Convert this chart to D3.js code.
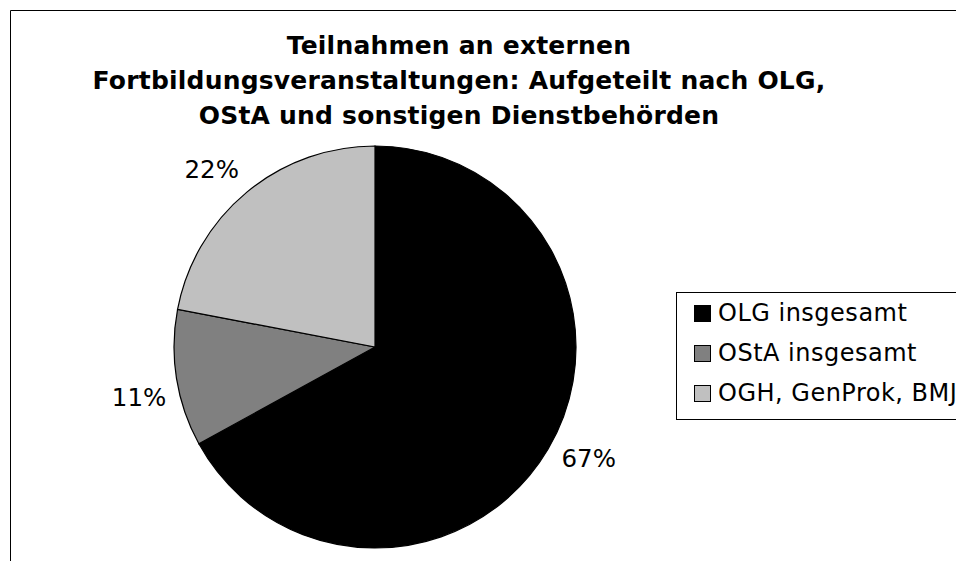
<!DOCTYPE html>
<html lang="de">
<head>
  <meta charset="utf-8">
  <title>Teilnahmen an externen Fortbildungsveranstaltungen</title>
  <script src="https://d3js.org/d3.v7.min.js"></script>
  <style>
    body { margin: 0; background: #fff; }
    svg { display: block; font-family: "DejaVu Sans", Verdana, sans-serif; }
  </style>
</head>
<body>
  <svg id="chart" width="956" height="561"></svg>

  <script>
    // Daten
    const categories = ["OLG insgesamt", "OStA insgesamt", "OGH, GenProk, BMJ"];
    const values = [67, 11, 22];
    const colors = ["#000000", "#808080", "#c0c0c0"];
    const titleLines = [
      "Teilnahmen an externen",
      "Fortbildungsveranstaltungen: Aufgeteilt nach OLG,",
      "OStA und sonstigen Dienstbehörden"
    ];

    const width = 956, height = 561;
    const cx = 375, cy = 347, radius = 201;

    const svg = d3.select("#chart");

    // Rahmen (nur oben und links sichtbar)
    svg.append("path")
        .attr("d", `M10.5,${height} V10.5 H${width}`)
        .attr("fill", "none")
        .attr("stroke", "#000")
        .attr("stroke-width", 1);

    // Titel
    svg.append("g")
        .attr("text-anchor", "middle")
        .style("font-weight", "bold")
        .style("font-size", "25px")
        .style("letter-spacing", "0.2px")
      .selectAll("text")
      .data(titleLines)
      .join("text")
        .attr("x", 459)
        .attr("y", (d, i) => 54 + i * 35)
        .text(d => d);

    const pie = d3.pie().sort(null).value(d => d);
    const arcs = pie(values);
    const arc = d3.arc().innerRadius(0).outerRadius(radius);

    const g = svg.append("g").attr("transform", `translate(${cx},${cy})`);

    g.selectAll("path")
      .data(arcs)
      .join("path")
        .attr("d", arc)
        .attr("fill", (d, i) => colors[i])
        .attr("stroke", "#000")
        .attr("stroke-width", 1.2);

    // Prozentbeschriftungen ausserhalb, leicht gegen den Uhrzeigersinn versetzt
    const shift = -3 * Math.PI / 180;
    const labelArc = d3.arc().innerRadius(radius * 1.2).outerRadius(radius * 1.2);
    const fmt = d3.format(".0%");
    const total = d3.sum(values);
    g.selectAll("text")
      .data(arcs)
      .join("text")
        .attr("transform", d => `translate(${labelArc.centroid({startAngle: d.startAngle + shift, endAngle: d.endAngle + shift})})`)
        .attr("text-anchor", "middle")
        .attr("dy", "0.35em")
        .style("font-size", "24.5px")
        .text(d => fmt(d.data / total));

    // Legende
    const legend = svg.append("g").attr("transform", "translate(676,292)");
    legend.append("rect")
        .attr("x", 0.5).attr("y", 0.5)
        .attr("width", 300).attr("height", 127)
        .attr("fill", "#fff")
        .attr("stroke", "#000");

    const item = legend.selectAll("g.item")
      .data(categories)
      .join("g")
        .attr("class", "item")
        .attr("transform", (d, i) => `translate(18,${21 + i * 40})`);

    item.append("rect")
        .attr("x", 0.5).attr("y", -7.5)
        .attr("width", 16).attr("height", 16)
        .attr("fill", (d, i) => colors[i])
        .attr("stroke", "#000");

    item.append("text")
        .attr("x", 24)
        .attr("dy", "0.35em")
        .style("font-size", "24px")
        .style("letter-spacing", "0.5px")
        .text(d => d);
  </script>
</body>
</html>
